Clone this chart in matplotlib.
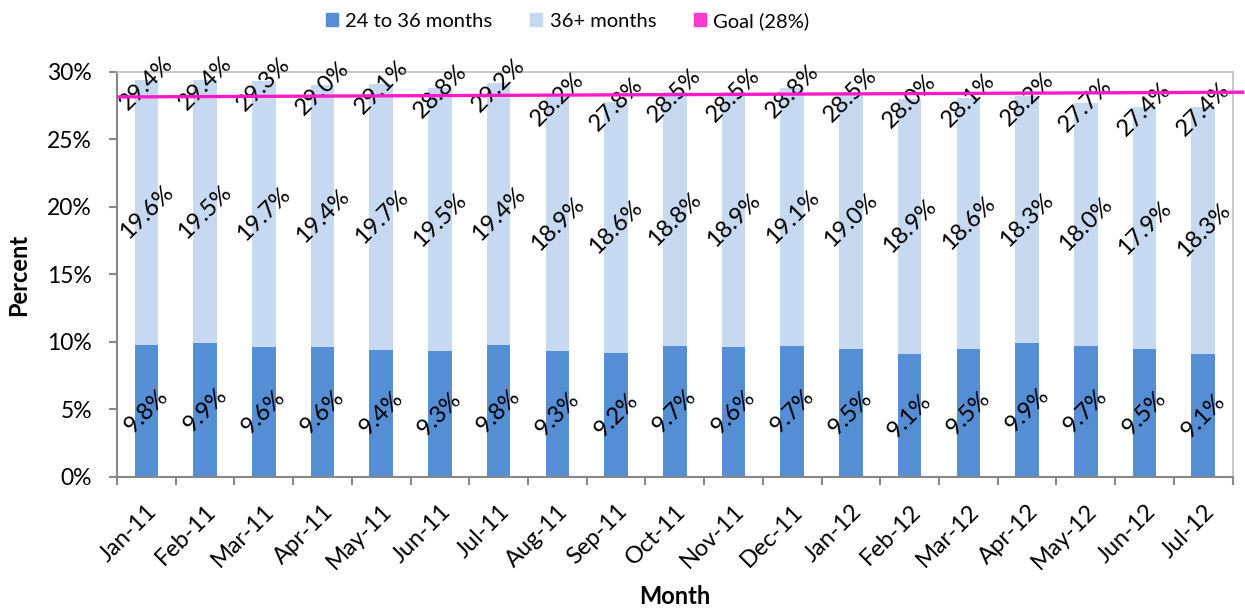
import matplotlib
matplotlib.use("Agg")
import matplotlib.pyplot as plt
from matplotlib.patches import Patch
import numpy as np

months = ["Jan-11", "Feb-11", "Mar-11", "Apr-11", "May-11", "Jun-11", "Jul-11",
          "Aug-11", "Sep-11", "Oct-11", "Nov-11", "Dec-11", "Jan-12", "Feb-12",
          "Mar-12", "Apr-12", "May-12", "Jun-12", "Jul-12"]
pct_24_36 = [9.8, 9.9, 9.6, 9.6, 9.4, 9.3, 9.8, 9.3, 9.2, 9.7, 9.6, 9.7, 9.5,
             9.1, 9.5, 9.9, 9.7, 9.5, 9.1]
pct_36_plus = [19.6, 19.5, 19.7, 19.4, 19.7, 19.5, 19.4, 18.9, 18.6, 18.8, 18.9,
               19.1, 19.0, 18.9, 18.6, 18.3, 18.0, 17.9, 18.3]
goal_start, goal_end = 28.15, 28.5

c_dark = "#558ED5"
c_light = "#C6D9F1"
c_goal = "#FF19C8"
axis_gray = "#878787"

plt.rcParams["font.family"] = ["Lato", "DejaVu Sans"]

fig = plt.figure(figsize=(12.45, 6.12), dpi=100)
ax = fig.add_axes([0.094, 0.2206, 0.896, 0.6618])

x = np.arange(len(months))
low = np.array(pct_24_36)
high = np.array(pct_36_plus)
total = low + high

ax.bar(x, low, width=0.4, color=c_dark, zorder=2)
ax.bar(x, high, width=0.4, bottom=low, color=c_light, zorder=2)

lbl = dict(rotation=45, ha="center", va="center", fontsize=17, zorder=4,
           rotation_mode="anchor")
for xi, a, b, t in zip(x, low, high, total):
    ax.text(xi, a / 2, f"{a:.1f}%", **lbl)
    ax.text(xi, a + b / 2, f"{b:.1f}%", **lbl)
    ax.text(xi, t - 0.2, f"{t:.1f}%", **lbl)

# goal line, running past the right edge of the plot
ax.plot([-0.5, len(months) - 0.5 + 0.2], [goal_start, goal_end], color=c_goal,
        lw=2.4, zorder=5, clip_on=False, solid_capstyle="butt")

ax.set_xlim(-0.5, len(months) - 0.5)
ax.set_ylim(0, 30)
ax.set_yticks(np.arange(0, 31, 5))
ax.set_yticklabels([f"{v}%" for v in range(0, 31, 5)], fontsize=16.5)

ax.set_xticks(np.arange(-0.5, len(months), 1.0))
ax.set_xticklabels([])
ax.set_xticks(x, minor=True)
ax.set_xticklabels(months, minor=True, rotation=45, ha="right", va="top",
                   rotation_mode="anchor", fontsize=17)
ax.tick_params(axis="x", which="minor", length=0, pad=17)
ax.tick_params(axis="x", which="major", length=6, width=1.5, color=axis_gray,
               direction="out")
ax.tick_params(axis="y", length=6, width=1.5, color=axis_gray, direction="out",
               pad=12)

for side in ("left", "bottom"):
    ax.spines[side].set_color(axis_gray)
    ax.spines[side].set_linewidth(1.5)
for side in ("top", "right"):
    ax.spines[side].set_color("#BFBFBF")
    ax.spines[side].set_linewidth(1.2)

ax.set_ylabel("Percent", fontsize=17, fontweight="bold", labelpad=12)
ax.set_xlabel("Month", fontsize=17, fontweight="bold", labelpad=8)

handles = [Patch(color=c_dark, label="24 to 36 months"),
           Patch(color=c_light, label="36+ months"),
           Patch(color="#FF3ACC", label="Goal (28%)")]
fig.legend(handles=handles, loc="center", bbox_to_anchor=(0.456, 0.966), ncol=3,
           frameon=False, fontsize=14.5, handlelength=0.6, handleheight=0.6,
           handletextpad=0.35, columnspacing=1.9)

fig.savefig("out.png", dpi=100, facecolor="white")
